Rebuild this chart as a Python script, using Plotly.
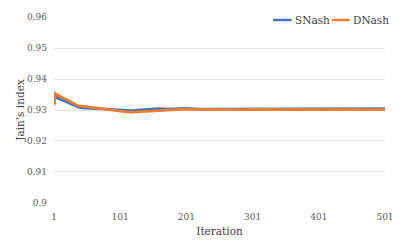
import plotly.graph_objects as go

iterations = [1, 3, 5, 8, 11, 15, 20, 25, 30, 35, 40, 50, 60, 70, 80, 90, 100, 110, 120, 130, 140, 150,
              160, 170, 180, 190, 200, 220, 240, 260, 280, 300, 320, 340, 360, 380, 400, 420, 440, 460, 480, 501]
snash = [0.9320, 0.9348, 0.9340, 0.9336, 0.9334, 0.9331, 0.9326, 0.9322, 0.9318, 0.9312, 0.9308, 0.9306, 0.9305,
         0.9303, 0.9301, 0.9300, 0.9300, 0.9299, 0.9298, 0.9300, 0.9302, 0.9303, 0.9304, 0.9303, 0.9304, 0.9305,
         0.9305, 0.9303, 0.9303, 0.9303, 0.9303, 0.9304, 0.9305, 0.9304, 0.9304, 0.9303, 0.9304, 0.9304, 0.9303,
         0.9304, 0.9304, 0.9304]
dnash = [0.9315, 0.9353, 0.9350, 0.9346, 0.9343, 0.9339, 0.9334, 0.9328, 0.9322, 0.9316, 0.9313, 0.9310, 0.9309,
         0.9305, 0.9301, 0.9298, 0.9296, 0.9294, 0.9293, 0.9294, 0.9296, 0.9297, 0.9298, 0.9299, 0.9300, 0.9302,
         0.9303, 0.9302, 0.9301, 0.9301, 0.9301, 0.9302, 0.9302, 0.9302, 0.9301, 0.9301, 0.9301, 0.9301, 0.9301,
         0.9301, 0.9301, 0.9301]
series_names = ["SNash", "DNash"]
x_ticks = [1, 101, 201, 301, 401, 501]
y_ticks = [0.9, 0.91, 0.92, 0.93, 0.94, 0.95, 0.96]
y_tick_labels = ["0.9", "0.91", "0.92", "0.93", "0.94", "0.95", "0.96"]

font = "DejaVu Serif"
colors = ["#4472C4", "#ED7D31"]
fig = go.Figure()
for name, ys, c in zip(series_names, [snash, dnash], colors):
    fig.add_trace(go.Scatter(x=iterations, y=ys, mode="lines", name=name, showlegend=False,
                             line=dict(color=c, width=2.8)))

legend_pos = [(0.662, 0.718, 0.721), (0.840, 0.893, 0.896)]
for name, c, (x0, x1, xt) in zip(series_names, colors, legend_pos):
    fig.add_shape(type="line", xref="paper", yref="paper", x0=x0, x1=x1, y0=0.984, y1=0.984,
                  line=dict(color=c, width=2.5))
    fig.add_annotation(xref="paper", yref="paper", x=xt, y=0.984, xanchor="left", yanchor="middle",
                       text=name, showarrow=False, font=dict(family=font, size=10.5, color="#404040"))

fig.update_layout(
    width=403, height=235,
    margin=dict(l=46, r=26, t=9, b=40, pad=0, autoexpand=False),
    paper_bgcolor="white", plot_bgcolor="white",
    font=dict(family=font, color="#595959", size=9),
    showlegend=False,
    xaxis=dict(range=[1, 501], tickvals=x_ticks, ticktext=[str(t) for t in x_ticks], automargin=False,
               showgrid=False, zeroline=False, showline=False, ticks="", ticklabelstandoff=7,
               tickfont=dict(family=font, size=9, color="#595959"),
               title=dict(text="Iteration", font=dict(family=font, size=10.5, color="#404040"), standoff=6)),
    yaxis=dict(range=[0.89995, 0.96005], tickvals=y_ticks, ticktext=y_tick_labels, automargin=False,
               showgrid=True, gridcolor="#E6E6E6", gridwidth=1, zeroline=False, showline=False, ticks="",
               ticklabelstandoff=6, tickfont=dict(family=font, size=9, color="#595959"),
               title=dict(text="Jain’s index", font=dict(family=font, size=10.5, color="#404040"), standoff=0)),
)
fig.write_html("out.html")
